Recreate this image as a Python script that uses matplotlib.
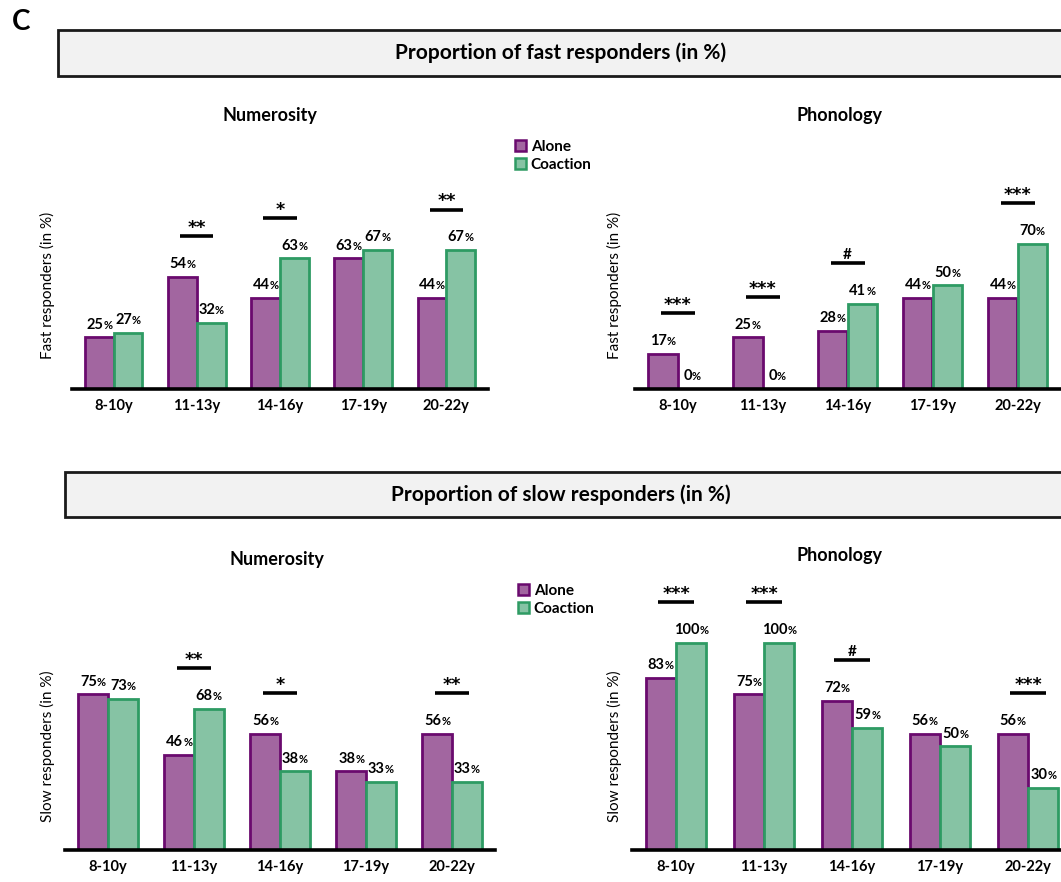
import numpy as np
import matplotlib
matplotlib.use("Agg")
import matplotlib.pyplot as plt
from matplotlib.patches import Rectangle, Patch
from matplotlib.offsetbox import TextArea, HPacker, AnnotationBbox

plt.rcParams['font.family'] = ['Lato', 'DejaVu Sans']

# data
age_groups = ["8-10y", "11-13y", "14-16y", "17-19y", "20-22y"]

fast_num_alone = [25, 54, 44, 63, 44]
fast_num_coaction = [27, 32, 63, 67, 67]
fast_num_sig = ["", "**", "*", "", "**"]

fast_phon_alone = [17, 25, 28, 44, 44]
fast_phon_coaction = [0, 0, 41, 50, 70]
fast_phon_sig = ["***", "***", "#", "", "***"]

slow_num_alone = [75, 46, 56, 38, 56]
slow_num_coaction = [73, 68, 38, 33, 33]
slow_num_sig = ["", "**", "*", "", "**"]

slow_phon_alone = [83, 75, 72, 56, 56]
slow_phon_coaction = [100, 100, 59, 50, 30]
slow_phon_sig = ["***", "***", "#", "", "***"]

purple_fill, purple_edge = "#A266A0", "#6A0A6E"
green_fill, green_edge = "#86C3A4", "#2E9B63"

W, H = 1061, 882
YMAX = 130
SCALE = 2.075  # pixels per percent

fig = plt.figure(figsize=(W / 100, H / 100), dpi=100)


def add_axes_px(x0, x1, base):
    h = YMAX * SCALE
    return fig.add_axes([x0 / W, (H - base) / H, (x1 - x0) / W, h / H])


def value_label(ax, x, h):
    num = TextArea(str(h), textprops=dict(fontsize=10.5, fontweight="bold"))
    pct = TextArea("%", textprops=dict(fontsize=8, fontweight="bold"))
    box = HPacker(children=[num, pct], align="baseline", pad=0, sep=0)
    ab = AnnotationBbox(box, (x, h), xybox=(0, 4), xycoords="data",
                        boxcoords="offset points", box_alignment=(0.5, 0),
                        frameon=False, pad=0, annotation_clip=False)
    ax.add_artist(ab)


def panel(ax, alone, coaction, sig, ylabel, ylab_x):
    x = np.arange(len(age_groups))
    w = 0.345
    ax.bar(x - w / 2, alone, w, color=purple_fill, edgecolor=purple_edge,
           linewidth=2)
    ax.bar(x + w / 2, coaction, w, color=green_fill, edgecolor=green_edge,
           linewidth=2)
    for i in range(len(x)):
        value_label(ax, x[i] - w / 2, alone[i])
        value_label(ax, x[i] + w / 2, coaction[i])
        if sig[i]:
            y = max(alone[i], coaction[i]) + 19.5
            ax.plot([x[i] - 0.2, x[i] + 0.2], [y, y], color="black",
                    lw=2.6, solid_capstyle="butt", clip_on=False)
            if sig[i] == "#":
                ax.text(x[i], y + 2, sig[i], ha="center", va="baseline",
                        fontsize=11, fontweight="bold", clip_on=False)
            else:
                ax.text(x[i], y + 1.5, sig[i], ha="center", va="baseline",
                        fontsize=12.5, fontweight="bold",
                        family="DejaVu Sans", clip_on=False)
    ax.set_xlim(-0.5, 4.5)
    ax.set_ylim(0, YMAX)
    ax.set_xticks(x, age_groups, fontsize=10.5, fontweight="bold")
    ax.set_yticks([])
    ax.tick_params(axis="x", length=0, pad=7)
    for s in ["top", "left", "right"]:
        ax.spines[s].set_visible(False)
    ax.spines["bottom"].set_linewidth(2.6)
    ax.patch.set_alpha(0)
    ax.set_ylabel(ylabel, fontsize=11)
    ax.yaxis.set_label_coords(ylab_x, 50 / YMAX)


def header(x0, top, bottom, text, cx):
    fig.add_artist(Rectangle((x0 / W, 1 - bottom / H), (1075 - x0) / W,
                             (bottom - top) / H, transform=fig.transFigure,
                             facecolor="#F2F2F2", edgecolor="#1A1A1A", lw=2))
    fig.text(cx / W, 1 - (top + bottom) / 2 / H, text, ha="center",
             va="center", fontsize=15, fontweight="bold")


def legend(x0, y0):
    handles = [Patch(facecolor=purple_fill, edgecolor=purple_edge, lw=1.8),
               Patch(facecolor=green_fill, edgecolor=green_edge, lw=1.8)]
    fig.legend(handles, ["Alone", "Coaction"], loc="upper left",
               bbox_to_anchor=(x0 / W, 1 - y0 / H), frameon=False,
               borderpad=0, handlelength=0.75, handleheight=0.75,
               handletextpad=0.3, labelspacing=0.3,
               prop=dict(size=11, weight="bold"))


fig.text(12 / W, 1 - 22 / H, "C", fontsize=20, fontweight="bold",
         ha="left", va="center")

header(58, 30, 76, "Proportion of fast responders (in %)", 561)
header(65, 472, 517, "Proportion of slow responders (in %)", 561)

ax1 = add_axes_px(72, 488, 389)
panel(ax1, fast_num_alone, fast_num_coaction, fast_num_sig,
      "Fast responders (in %)", -17 / 416)
ax2 = add_axes_px(635, 1060, 389)
panel(ax2, fast_phon_alone, fast_phon_coaction, fast_phon_sig,
      "Fast responders (in %)", -13 / 425)
ax3 = add_axes_px(65, 495, 850)
panel(ax3, slow_num_alone, slow_num_coaction, slow_num_sig,
      "Slow responders (in %)", -10 / 430)
ax4 = add_axes_px(632, 1072, 850)
panel(ax4, slow_phon_alone, slow_phon_coaction, slow_phon_sig,
      "Slow responders (in %)", -10 / 440)

fig.text(270 / W, 1 - 115 / H, "Numerosity", ha="center", va="center",
         fontsize=13, fontweight="bold")
fig.text(840 / W, 1 - 115 / H, "Phonology", ha="center", va="center",
         fontsize=13, fontweight="bold")
fig.text(277 / W, 1 - 560 / H, "Numerosity", ha="center", va="center",
         fontsize=13, fontweight="bold")
fig.text(840 / W, 1 - 555 / H, "Phonology", ha="center", va="center",
         fontsize=13, fontweight="bold")

legend(507, 132)
legend(510, 576)

fig.savefig("out.png", dpi=100)
